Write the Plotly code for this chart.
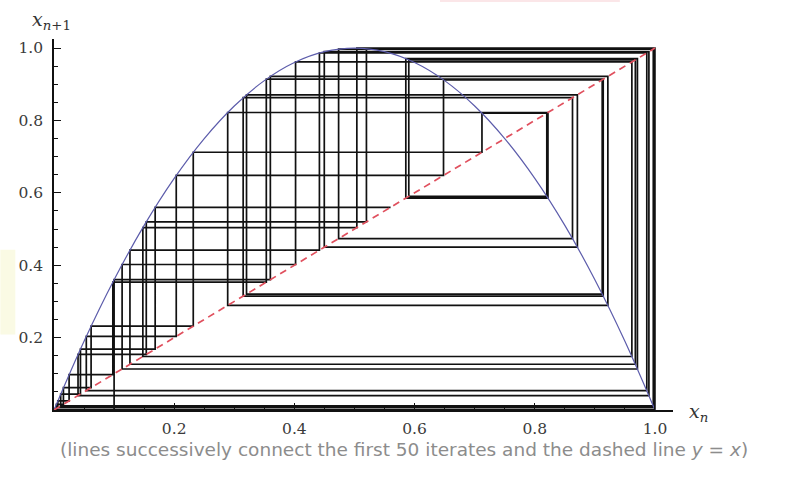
import plotly.graph_objects as go

# Iterates x_0 ... x_50 of the map
iterates = [0.10000, 0.36000, 0.92160, 0.28901, 0.82194, 0.58542, 0.97081, 0.11334,
            0.40197, 0.96156, 0.14784, 0.50392, 0.99994, 0.00025, 0.00098, 0.00394,
            0.01568, 0.06174, 0.23173, 0.71212, 0.82001, 0.59036, 0.96734, 0.12638,
            0.44165, 0.98638, 0.05374, 0.20342, 0.64815, 0.91221, 0.32034, 0.87089,
            0.44975, 0.98990, 0.03999, 0.15355, 0.51988, 0.99842, 0.00632, 0.02511,
            0.09790, 0.35328, 0.91389, 0.31478, 0.86277, 0.47359, 0.99721, 0.01113,
            0.04403, 0.16835, 0.56004]

# Map curve sampled values
curve_x = [0.00, 0.05, 0.10, 0.15, 0.20, 0.25, 0.30, 0.35, 0.40, 0.45, 0.50,
           0.55, 0.60, 0.65, 0.70, 0.75, 0.80, 0.85, 0.90, 0.95, 1.00]
curve_y = [0.00, 0.19, 0.36, 0.51, 0.64, 0.75, 0.84, 0.91, 0.96, 0.99, 1.00,
           0.99, 0.96, 0.91, 0.84, 0.75, 0.64, 0.51, 0.36, 0.19, 0.00]

diag = [0.0, 1.0]
tick_vals = [0.2, 0.4, 0.6, 0.8, 1.0]
tick_text = ["0.2", "0.4", "0.6", "0.8", "1.0"]

# cobweb path
web_x = [iterates[0]]
web_y = [0.0]
for a, b in zip(iterates[:-1], iterates[1:]):
    web_x += [a, b]
    web_y += [b, b]

W, H = 798, 481
L, R, T, B = 53.7, 124.8, 39, 70.5
pw, ph = W - L - R, H - T - B

def px(xp):
    return (xp - L) / pw

def py(yp):
    return (H - B - yp) / ph

fig = go.Figure()
fig.add_trace(go.Scatter(x=web_x, y=web_y, mode="lines",
                         line=dict(color="#111111", width=1.7), hoverinfo="skip"))
fig.add_trace(go.Scatter(x=curve_x, y=curve_y, mode="lines",
                         line=dict(color="#5c5cab", width=1.2, shape="spline", smoothing=1.0),
                         hoverinfo="skip"))
fig.add_trace(go.Scatter(x=diag, y=diag, mode="lines",
                         line=dict(color="#e0505e", width=1.7, dash="7px,5px"),
                         hoverinfo="skip"))

axis_common = dict(
    showgrid=False, zeroline=False, showline=True, linecolor="#111", linewidth=1.5,
    ticks="inside", ticklen=7, tickwidth=1.3, tickcolor="#111",
    tickvals=tick_vals, ticktext=tick_text,
    tickfont=dict(family="DejaVu Serif", size=15.5, color="#3a3a3a"),
    minor=dict(ticks="inside", ticklen=4, tickwidth=1.1, tickcolor="#111",
               tick0=0, dtick=0.05),
)
fig.update_xaxes(range=[0, 1.03], ticklabelstandoff=4, **axis_common)
fig.update_yaxes(range=[0, 1.025], ticklabelstandoff=6, **axis_common)

fig.update_layout(
    width=W, height=H, showlegend=False,
    margin=dict(l=L, r=R, t=T, b=B, pad=0),
    plot_bgcolor="white", paper_bgcolor="white",
)

# faint watermark traces
fig.add_shape(type="rect", xref="paper", yref="paper",
              x0=px(0), x1=px(15), y0=py(335), y1=py(250),
              fillcolor="#fafae4", line_width=0, layer="below")
fig.add_shape(type="rect", xref="paper", yref="paper",
              x0=px(440), x1=px(620), y0=py(2), y1=py(0),
              fillcolor="#fbe6e8", line_width=0, layer="below")

fig.add_annotation(text="<i>x</i><sub><i>n</i>+1</sub>", xref="paper", yref="paper",
                   x=px(51), y=py(20), xanchor="center", yanchor="middle", showarrow=False,
                   font=dict(family="DejaVu Serif", size=19, color="#333"))
fig.add_annotation(text="<i>x</i><sub><i>n</i></sub>", xref="paper", yref="paper",
                   x=px(699), y=py(413), xanchor="center", yanchor="middle", showarrow=False,
                   font=dict(family="DejaVu Serif", size=19, color="#333"))
fig.add_annotation(text="(lines successively connect the first 50 iterates and the dashed line <i>y</i> = <i>x</i>)",
                   xref="paper", yref="paper", x=px(404), y=py(450),
                   xanchor="center", yanchor="middle", showarrow=False,
                   font=dict(family="DejaVu Sans", size=18.5, color="#8c8c8c"))

fig.write_html("out.html")
